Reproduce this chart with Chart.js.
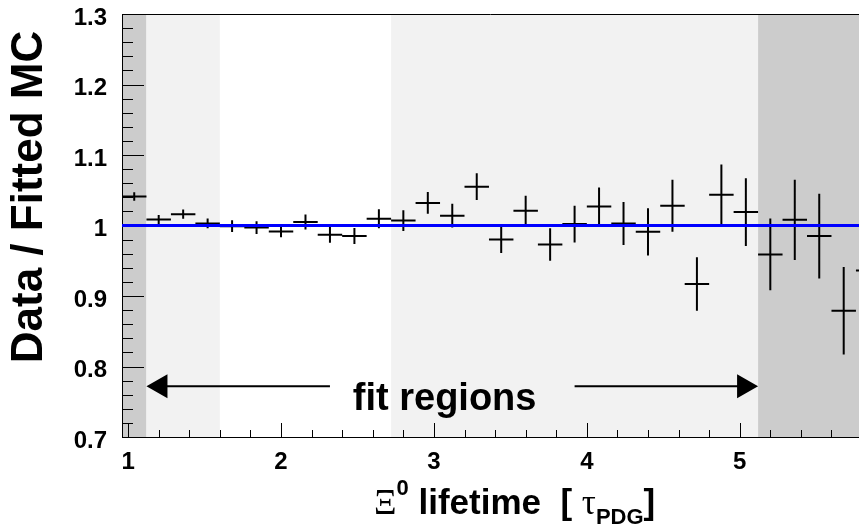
<!DOCTYPE html>
<html>
<head>
<meta charset="utf-8">
<script src="https://cdn.jsdelivr.net/npm/chart.js@4.4.1/dist/chart.umd.min.js"></script>
<style>
  html, body { margin: 0; padding: 0; background: #fff; }
  #wrap { width: 859px; height: 528px; }
</style>
</head>
<body>
<div id="wrap"><canvas id="ratioChart" width="859" height="528"></canvas></div>
<script>
// Bin centres (lifetime in tau_PDG), ratio Data / Fitted MC and its error
const binCenters = [1.04, 1.20, 1.36, 1.52, 1.68, 1.84, 2.00, 2.16, 2.32, 2.48, 2.64,
  2.80, 2.96, 3.12, 3.28, 3.44, 3.60, 3.76, 3.92, 4.08, 4.24, 4.40, 4.56, 4.72, 4.88,
  5.04, 5.20, 5.36, 5.52, 5.68, 5.84];
const ratioValues = [1.041, 1.0085, 1.016, 1.003, 0.999, 0.997, 0.9915, 1.005, 0.987, 0.985, 1.0095,
  1.007, 1.032, 1.014, 1.055, 0.980, 1.021, 0.973, 1.002, 1.027, 1.003, 0.991, 1.028, 0.917, 1.0435,
  1.019, 0.959, 1.008, 0.985, 0.879, 0.936];
const ratioErrors = [0.006, 0.0064, 0.0066, 0.007, 0.0083, 0.009, 0.008, 0.0106, 0.0113, 0.0113, 0.0135,
  0.0147, 0.0154, 0.017, 0.019, 0.019, 0.0213, 0.023, 0.026, 0.027, 0.0305, 0.0336, 0.037, 0.038, 0.043,
  0.048, 0.051, 0.057, 0.060, 0.062, 0.065];
const binHalfWidth = 0.08;

// Fit result (flat line at 1)
const fitValue = 1.0;
const fitRange = [0.96, 5.78];

// Shaded regions along x
const bandEdges = [0.96, 1.12, 1.60, 2.72, 5.12, 5.78];
const bandColors = ['#cccccc', '#f2f2f2', '#ffffff', '#f2f2f2', '#cccccc'];

// Axis ticks
const xMajorTicks = [1, 2, 3, 4, 5];
const xTickLabels = ['1', '2', '3', '4', '5'];
const yMajorTicks = [0.7, 0.8, 0.9, 1.0, 1.1, 1.2, 1.3];
const yTickLabels = ['0.7', '0.8', '0.9', '1', '1.1', '1.2', '1.3'];

// "fit regions" annotation
const arrowY = 0.772;
const leftArrow = [1.12, 2.32];
const rightArrow = [3.92, 5.12];
const noteText = 'fit regions';
const noteX = 3.07;
const noteY = 0.739;

const SANS = '"Liberation Sans", Arial, Helvetica, sans-serif';
const SERIF = '"Liberation Serif", "DejaVu Serif", serif';

// Build the crosses: horizontal bin width + vertical error, gaps between them
const crossPoints = [];
binCenters.forEach((c, i) => {
  const v = ratioValues[i];
  const e = ratioErrors[i];
  crossPoints.push({ x: c - binHalfWidth, y: v }, { x: c + binHalfWidth, y: v }, { x: c, y: null });
  crossPoints.push({ x: c, y: v - e }, { x: c, y: v + e }, { x: c, y: null });
});

// Background bands, drawn before the axes
const bandPlugin = {
  id: 'bands',
  beforeDraw(chart) {
    const { ctx, chartArea: a, scales: { x } } = chart;
    ctx.save();
    for (let i = 0; i < bandColors.length; i++) {
      const x0 = x.getPixelForValue(bandEdges[i]);
      const x1 = Math.min(x.getPixelForValue(bandEdges[i + 1]), a.right);
      ctx.fillStyle = bandColors[i];
      ctx.fillRect(x0, a.top, x1 - x0, a.bottom - a.top);
    }
    ctx.restore();
  }
};

// Inward ticks and the top frame line
const tickPlugin = {
  id: 'innerTicks',
  beforeDatasetsDraw(chart) {
    const { ctx, chartArea: a, scales: { x, y } } = chart;
    ctx.save();
    ctx.strokeStyle = '#000';
    ctx.lineWidth = 1;
    ctx.beginPath();
    for (let k = 0; k <= 30; k++) {
      const py = Math.round(y.getPixelForValue(0.7 + k * 0.02)) + 0.5;
      const len = k % 5 === 0 ? 22 : 11;
      ctx.moveTo(a.left, py);
      ctx.lineTo(a.left + len, py);
    }
    for (let k = 5; k <= 28; k++) {
      const px = Math.round(x.getPixelForValue(k * 0.2)) + 0.5;
      const len = k % 5 === 0 ? 14 : 7;
      ctx.moveTo(px, a.bottom);
      ctx.lineTo(px, a.bottom - len);
    }
    ctx.moveTo(a.left, a.top + 0.5);
    ctx.lineTo(a.right, a.top + 0.5);
    ctx.stroke();
    ctx.restore();
  }
};

// Arrows, note and axis titles
const textPlugin = {
  id: 'texts',
  afterDatasetsDraw(chart) {
    const { ctx, scales: { x, y } } = chart;
    ctx.save();
    ctx.fillStyle = '#000';
    ctx.strokeStyle = '#000';
    ctx.lineWidth = 2;

    const ya = y.getPixelForValue(arrowY);
    const lt = x.getPixelForValue(leftArrow[0]);
    const le = x.getPixelForValue(leftArrow[1]);
    const rs = x.getPixelForValue(rightArrow[0]);
    const rt = x.getPixelForValue(rightArrow[1]);
    ctx.beginPath();
    ctx.moveTo(lt + 15, ya); ctx.lineTo(le, ya);
    ctx.moveTo(rs, ya); ctx.lineTo(rt - 15, ya);
    ctx.stroke();
    ctx.beginPath();
    ctx.moveTo(lt, ya); ctx.lineTo(lt + 21, ya - 12); ctx.lineTo(lt + 21, ya + 12); ctx.closePath();
    ctx.moveTo(rt, ya); ctx.lineTo(rt - 21, ya - 12); ctx.lineTo(rt - 21, ya + 12); ctx.closePath();
    ctx.fill();

    ctx.font = 'bold 38px ' + SANS;
    ctx.textAlign = 'center';
    ctx.textBaseline = 'alphabetic';
    ctx.fillText(noteText, x.getPixelForValue(noteX), y.getPixelForValue(noteY));

    // y title
    ctx.save();
    ctx.translate(42, 197);
    ctx.rotate(-Math.PI / 2);
    ctx.font = 'bold 44px ' + SANS;
    ctx.fillText('Data / Fitted MC', 0, 0);
    ctx.restore();

    // x title: Xi^0 lifetime [ tau_PDG ]
    ctx.textAlign = 'left';
    let px = 374;
    const base = 514;
    const parts = [
      { t: '\u039E', f: '35px ' + SERIF, dy: 0 },
      { t: '0', f: 'bold 22px ' + SANS, dy: -19 },
      { t: ' lifetime  [ ', f: 'bold 35px ' + SANS, dy: 0 },
      { t: '\u03C4', f: '35px ' + SERIF, dy: 0 },
      { t: 'PDG', f: 'bold 22px ' + SANS, dy: 10 },
      { t: ']', f: 'bold 35px ' + SANS, dy: 0 }
    ];
    parts.forEach(p => {
      ctx.font = p.f;
      ctx.fillText(p.t, px, base + p.dy);
      px += ctx.measureText(p.t).width;
    });
    ctx.restore();
  }
};

const tickFont = { family: SANS, size: 24, weight: 'bold' };

new Chart(document.getElementById('ratioChart'), {
  type: 'scatter',
  data: {
    datasets: [
      {
        label: 'Fit',
        data: [{ x: fitRange[0], y: fitValue }, { x: fitRange[1], y: fitValue }],
        showLine: true,
        borderColor: '#0000ff',
        borderWidth: 3,
        pointRadius: 0,
        order: 0
      },
      {
        label: 'Data / Fitted MC',
        data: crossPoints,
        showLine: true,
        spanGaps: false,
        borderColor: '#000',
        borderWidth: 2,
        borderCapStyle: 'butt',
        pointRadius: 0,
        order: 1
      }
    ]
  },
  options: {
    responsive: false,
    animation: false,
    layout: { padding: { top: 14, right: 0, bottom: 0, left: 0 } },
    plugins: { legend: { display: false }, tooltip: { enabled: false } },
    scales: {
      x: {
        type: 'linear',
        min: 0.96,
        max: 5.78,
        afterBuildTicks: s => { s.ticks = xMajorTicks.map(v => ({ value: v })); },
        afterFit: s => { s.height = 91; s.paddingLeft = 0; s.paddingRight = 0; },
        grid: { display: false, drawTicks: false },
        border: { display: true, color: '#000', width: 1 },
        ticks: { padding: 11, color: '#000', font: tickFont, maxRotation: 0,
          callback: (v, i) => xTickLabels[i] }
      },
      y: {
        min: 0.7,
        max: 1.3,
        afterBuildTicks: s => { s.ticks = yMajorTicks.map(v => ({ value: v })); },
        afterFit: s => { s.width = 122; s.paddingTop = 0; s.paddingBottom = 0; },
        grid: { display: false, drawTicks: false },
        border: { display: true, color: '#000', width: 1 },
        ticks: { padding: 15, labelOffset: 4, color: '#000', font: tickFont,
          callback: (v, i) => yTickLabels[i] }
      }
    }
  },
  plugins: [bandPlugin, tickPlugin, textPlugin]
});
</script>
</body>
</html>
